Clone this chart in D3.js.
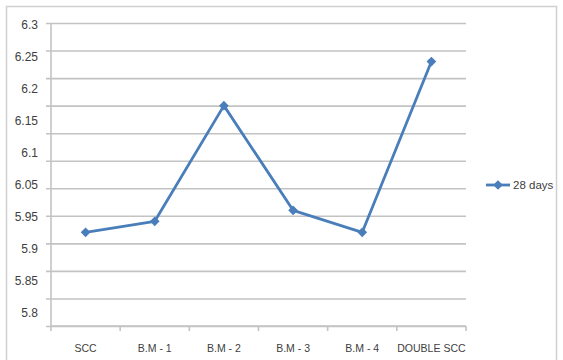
<!DOCTYPE html>
<html>
<head>
<meta charset="utf-8">
<script src="https://cdn.jsdelivr.net/npm/d3@7"></script>
<style>
  html, body { margin: 0; padding: 0; background: #fff; }
  svg { display: block; }
  text { font-family: "Liberation Sans Narrow", "Liberation Sans", Arial, sans-serif; fill: #404040; }
</style>
</head>
<body>
<svg id="chart" width="563" height="360"></svg>
<script>
// Mixes and the 28-day measurement for each
const categories = ["SCC", "B.M - 1", "B.M - 2", "B.M - 3", "B.M - 4", "DOUBLE SCC"];
const values28 = [5.92, 5.94, 6.15, 5.96, 5.92, 6.23];
const seriesName = "28 days";

// Gridline values on the value axis and the labels printed beside it
const gridValues = [5.75, 5.8, 5.85, 5.9, 5.95, 6.0, 6.05, 6.1, 6.15, 6.2, 6.25, 6.3];
const yLabels = ["6.3", "6.25", "6.2", "6.15", "6.1", "6.05", "5.95", "5.9", "5.85", "5.8"];

const svg = d3.select("#chart");
const gridColor = "#c3c3c3";
const lineColor = "#4a7ebb";

// outer frame of the chart
svg.append("rect")
  .attr("x", 6.5).attr("y", 6.5)
  .attr("width", 550).attr("height", 360)
  .attr("fill", "none").attr("stroke", "#d0d0d0").attr("stroke-width", 1.5);

const plot = { left: 51, right: 466, top: 23, bottom: 326 };

const x = d3.scaleBand().domain(categories).range([plot.left, plot.right]);
const y = d3.scaleLinear().domain([5.75, 6.3]).range([plot.bottom, plot.top]);
const labelY = d3.scalePoint().domain(yLabels).range([25, 313]);

// horizontal gridlines with short ticks on the left
const yAxis = d3.axisLeft(y)
  .tickValues(gridValues)
  .tickSize(plot.right - plot.left + 5)
  .tickFormat("");
svg.append("g")
  .attr("transform", `translate(${plot.right},0)`)
  .call(yAxis)
  .call(g => g.select(".domain").remove())
  .call(g => g.selectAll(".tick line")
    .attr("stroke", gridColor).attr("stroke-width", 1.6));

// vertical axis line
svg.append("line")
  .attr("x1", plot.left).attr("x2", plot.left)
  .attr("y1", plot.top).attr("y2", plot.bottom)
  .attr("stroke", gridColor).attr("stroke-width", 1.6);

// value labels in their own column
svg.append("g").selectAll("text")
  .data(yLabels)
  .join("text")
  .attr("x", 38)
  .attr("y", d => labelY(d))
  .attr("text-anchor", "end")
  .attr("dominant-baseline", "central")
  .attr("font-size", 12)
  .text(d => d);

// category axis along the bottom
const boundaries = categories.map(c => x(c)).concat([plot.right]);
svg.append("line")
  .attr("x1", plot.left).attr("x2", plot.right)
  .attr("y1", plot.bottom).attr("y2", plot.bottom)
  .attr("stroke", gridColor).attr("stroke-width", 1.6);
svg.append("g").selectAll("line")
  .data(boundaries)
  .join("line")
  .attr("x1", d => d).attr("x2", d => d)
  .attr("y1", plot.bottom).attr("y2", plot.bottom + 5)
  .attr("stroke", gridColor).attr("stroke-width", 1.6);
svg.append("g").selectAll("text")
  .data(categories)
  .join("text")
  .attr("x", d => x(d) + x.bandwidth() / 2)
  .attr("y", 352)
  .attr("text-anchor", "middle")
  .attr("font-size", 10.5)
  .text(d => d);

// the 28-day line
const pts = categories.map((c, i) => [x(c) + x.bandwidth() / 2, y(values28[i])]);
svg.append("path")
  .attr("d", d3.line()(pts))
  .attr("fill", "none")
  .attr("stroke", lineColor)
  .attr("stroke-width", 2.8)
  .attr("stroke-linejoin", "round");

const diamond = d3.symbol().type(d3.symbolDiamond2).size(60);
svg.append("g").selectAll("path")
  .data(pts)
  .join("path")
  .attr("transform", d => `translate(${d[0]},${d[1]})`)
  .attr("d", diamond)
  .attr("fill", lineColor);

// legend
const legend = svg.append("g").attr("transform", "translate(486,185)");
legend.append("line")
  .attr("x1", 0).attr("x2", 24).attr("y1", 0).attr("y2", 0)
  .attr("stroke", lineColor).attr("stroke-width", 2.8);
legend.append("path")
  .attr("transform", "translate(12,0)")
  .attr("d", diamond)
  .attr("fill", lineColor);
legend.append("text")
  .attr("x", 27).attr("y", 0)
  .attr("dominant-baseline", "central")
  .attr("font-size", 11.5)
  .text(seriesName);
</script>
</body>
</html>
